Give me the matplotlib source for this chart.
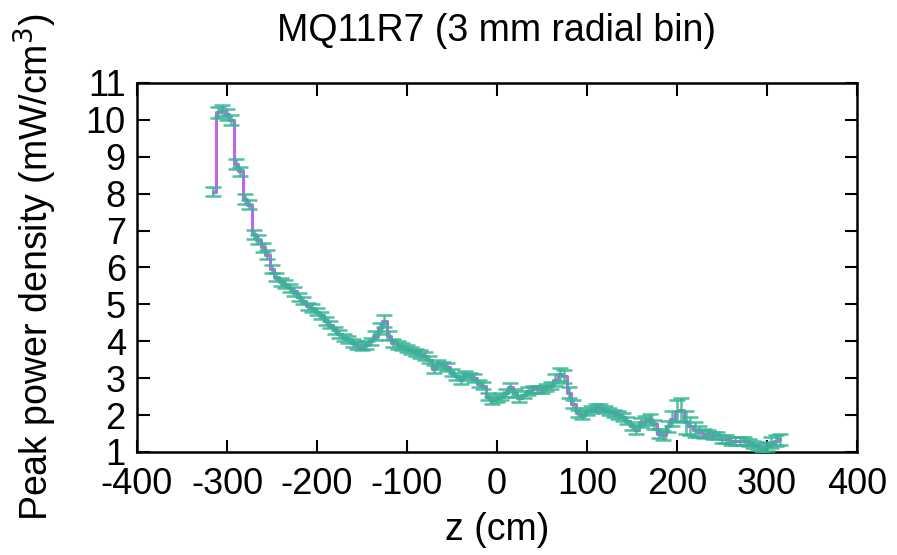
import numpy as np
import matplotlib.pyplot as plt

plt.rcParams['font.family'] = ['Liberation Sans', 'DejaVu Sans']
plt.rcParams['axes.unicode_minus'] = False

# bin centres along z (cm) and peak power density per bin (mW/cm^3)
z = [-315, -310, -305, -300, -295, -290, -285, -280, -275, -270,
     -265, -260, -255, -250, -245, -240, -235, -230, -225, -220,
     -215, -210, -205, -200, -195, -190, -185, -180, -175, -170,
     -165, -160, -155, -150, -145, -140, -135, -130, -125, -120,
     -115, -110, -105, -100, -95, -90, -85, -80, -75, -70,
     -65, -60, -55, -50, -45, -40, -35, -30, -25, -20,
     -15, -10, -5, 0, 5, 10, 15, 20, 25, 30,
     35, 40, 45, 50, 55, 60, 65, 70, 75, 80,
     85, 90, 95, 100, 105, 110, 115, 120, 125, 130,
     135, 140, 145, 150, 155, 160, 165, 170, 175, 180,
     185, 190, 195, 200, 205, 210, 215, 220, 225, 230,
     235, 240, 245, 250, 255, 260, 265, 270, 275, 280,
     285, 290, 295, 300, 305, 310, 315]

power = [8.05, 10.2, 10.25, 10.15, 10.0, 8.8, 8.6, 7.85, 7.7, 6.9,
         6.75, 6.55, 6.35, 5.95, 5.75, 5.6, 5.55, 5.45, 5.35, 5.2,
         5.1, 4.95, 4.9, 4.8, 4.7, 4.55, 4.45, 4.3, 4.2, 4.1,
         4.05, 3.95, 3.9, 3.85, 3.9, 4.0, 4.15, 4.35, 4.55, 4.15,
         3.95, 3.9, 3.85, 3.8, 3.75, 3.7, 3.65, 3.6, 3.5, 3.25,
         3.4, 3.35, 3.3, 3.15, 3.05, 2.95, 3.1, 3.05, 3.0, 2.85,
         2.8, 2.5, 2.4, 2.45, 2.5, 2.6, 2.75, 2.6, 2.45, 2.55,
         2.65, 2.7, 2.7, 2.7, 2.75, 2.8, 2.95, 3.1, 3.05, 2.6,
         2.3, 2.05, 2.0, 2.1, 2.15, 2.2, 2.2, 2.15, 2.1, 2.05,
         2.0, 1.95, 1.85, 1.7, 1.6, 1.8, 1.85, 1.9, 1.75, 1.5,
         1.45, 1.7, 1.9, 2.1, 2.15, 1.8, 1.7, 1.6, 1.55, 1.5,
         1.5, 1.45, 1.45, 1.35, 1.35, 1.3, 1.3, 1.3, 1.3, 1.25,
         1.2, 1.15, 1.1, 1.15, 1.25, 1.3, 1.35]

err = [0.12, 0.15, 0.15, 0.15, 0.14, 0.14, 0.13, 0.13, 0.12, 0.12,
       0.12, 0.12, 0.12, 0.11, 0.11, 0.11, 0.11, 0.11, 0.11, 0.1,
       0.1, 0.1, 0.1, 0.1, 0.1, 0.1, 0.1, 0.1, 0.1, 0.1,
       0.1, 0.1, 0.1, 0.1, 0.1, 0.1, 0.12, 0.15, 0.15, 0.12,
       0.1, 0.1, 0.1, 0.1, 0.1, 0.1, 0.1, 0.1, 0.1, 0.1,
       0.1, 0.1, 0.1, 0.1, 0.1, 0.1, 0.1, 0.1, 0.1, 0.1,
       0.1, 0.1, 0.1, 0.1, 0.1, 0.1, 0.12, 0.1, 0.1, 0.1,
       0.1, 0.1, 0.1, 0.1, 0.1, 0.1, 0.15, 0.18, 0.18, 0.15,
       0.12, 0.1, 0.1, 0.1, 0.1, 0.1, 0.1, 0.1, 0.1, 0.1,
       0.1, 0.1, 0.1, 0.1, 0.12, 0.12, 0.12, 0.12, 0.12, 0.12,
       0.12, 0.15, 0.2, 0.3, 0.3, 0.3, 0.25, 0.2, 0.15, 0.12,
       0.1, 0.1, 0.1, 0.1, 0.1, 0.1, 0.1, 0.1, 0.1, 0.1,
       0.1, 0.1, 0.1, 0.12, 0.15, 0.15, 0.15]

fig = plt.figure(figsize=(8.97, 5.55), dpi=100)
ax = fig.add_axes([0.1527, 0.1856, 0.8027, 0.665])

ax.step(z, power, where='mid', color='#c266e8', lw=2.2, zorder=2)
ax.errorbar(z, power, yerr=err, fmt='none', ecolor='#35b594', elinewidth=1.8,
            capsize=5.5, capthick=1.8, alpha=0.85, zorder=3)

ax.set_xlim(-400, 400)
ax.set_ylim(1, 11)
ax.set_xticks(np.arange(-400, 401, 100))
ax.set_yticks(np.arange(1, 12, 1))
ax.tick_params(direction='in', length=9, width=1.5, top=True, right=True,
               labelsize=26)
ax.tick_params(axis='x', pad=11)
ax.tick_params(axis='y', pad=8)
for s in ax.spines.values():
    s.set_linewidth(1.8)

ax.set_title('MQ11R7 (3 mm radial bin)', fontsize=27, pad=30)
ax.set_xlabel('z (cm)', fontsize=27, labelpad=7)
ax.set_ylabel('Peak power density (mW/cm$^3$)', fontsize=27, labelpad=19)

fig.savefig('out.png', dpi=100)
